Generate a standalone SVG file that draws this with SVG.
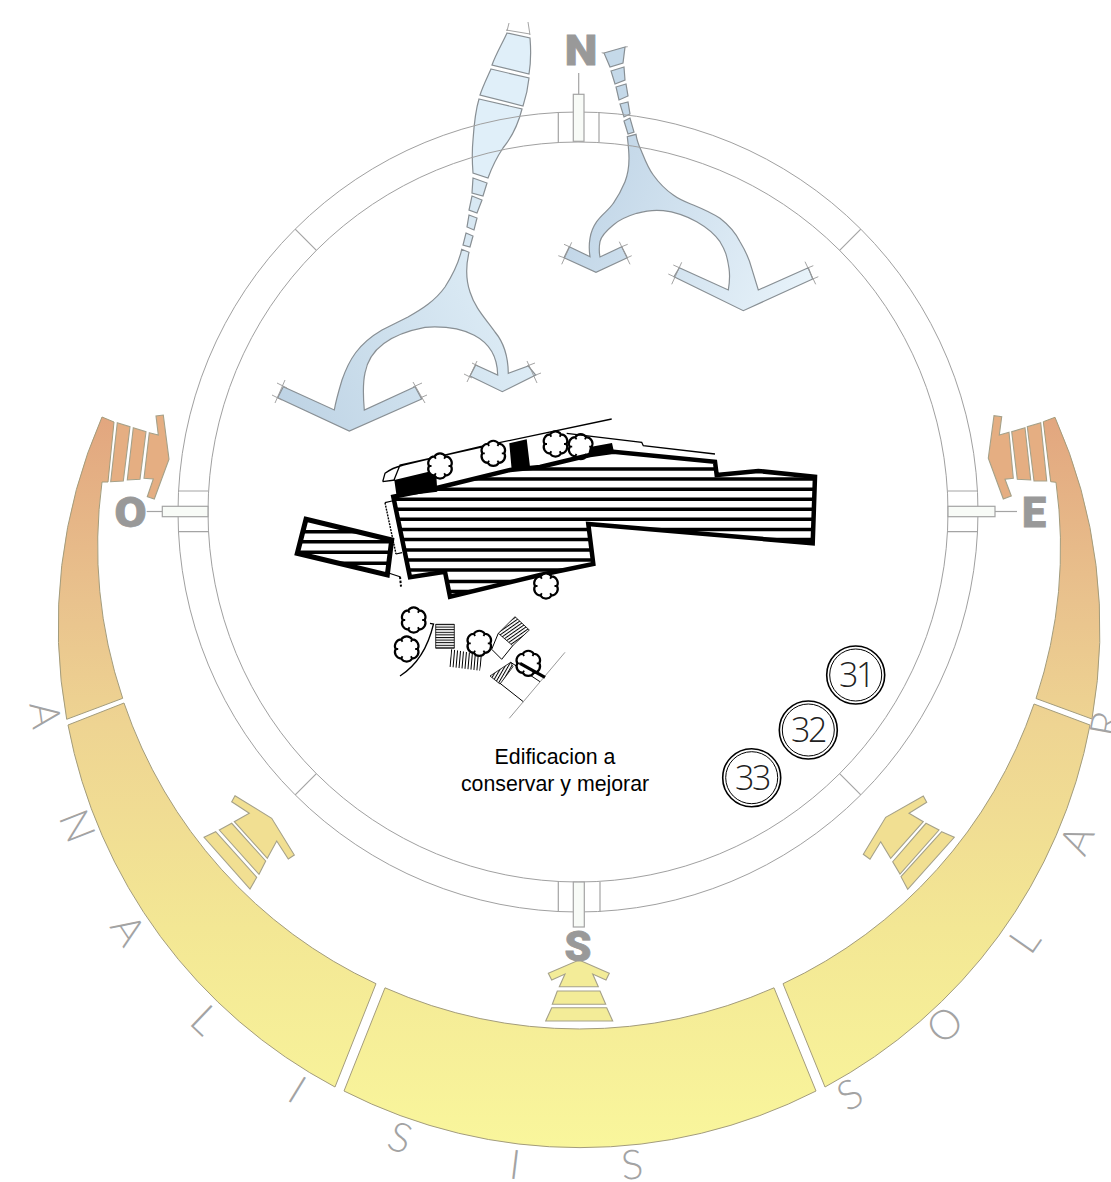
<svg xmlns="http://www.w3.org/2000/svg" width="1111" height="1182" viewBox="0 0 1111 1182">
<style>
.ring{fill:none;stroke:#a0a0a0;stroke-width:1}
.tick{stroke:#a4a4a4;stroke-width:1.2;fill:none}
.post{fill:#f8fbf7;stroke:#a4a4a4;stroke-width:1.2}
.dir{font-family:Roboto,"Liberation Sans",Arial,sans-serif;font-weight:900;font-size:43px;fill:#999;stroke:#999;stroke-width:.8;text-anchor:middle}
.lt{font-family:Lato,"Noto Sans",sans-serif;font-weight:300;font-size:41px;fill:#a3a3a3;text-anchor:middle}
.band{fill:url(#bandG);stroke:#a39c7c;stroke-width:1}
.hand{stroke:#a5a189;stroke-width:1.1}
.arr{stroke:#888f94;stroke-width:1.2}
.mk{fill:none;stroke:#999;stroke-width:.9}
.num{font-family:"Open Sans","Noto Sans",sans-serif;font-weight:300;font-size:34px;letter-spacing:-2.500px;fill:#222;text-anchor:middle}
.lab{font-family:"Liberation Sans",Arial,sans-serif;font-size:21.300px;fill:#000;text-anchor:middle}
.wall{fill:none;stroke:#000;stroke-linejoin:miter}
.tr{stroke:#000;stroke-width:2.200}
</style>
<defs>
<linearGradient id="bandG" gradientUnits="userSpaceOnUse" x1="0" y1="417" x2="0" y2="1148">
<stop offset="0" stop-color="#e2a67f"/><stop offset=".25" stop-color="#e9c28d"/><stop offset=".42" stop-color="#eed492"/><stop offset=".7" stop-color="#f3e794"/><stop offset="1" stop-color="#f9f69c"/>
</linearGradient>
<linearGradient id="yL" gradientUnits="userSpaceOnUse" x1="285" y1="400" x2="500" y2="300"><stop offset="0" stop-color="#bfd4e5"/><stop offset="1" stop-color="#dcebf5"/></linearGradient>
<linearGradient id="yR" gradientUnits="userSpaceOnUse" x1="590" y1="200" x2="810" y2="290"><stop offset="0" stop-color="#c3d7e8"/><stop offset="1" stop-color="#e8f3fa"/></linearGradient>
<pattern id="hA" width="2.600" height="2.600" patternUnits="userSpaceOnUse"><rect width="2.600" height="1" fill="#000"/></pattern>
<pattern id="hB" width="3" height="3" patternUnits="userSpaceOnUse" patternTransform="rotate(95)"><rect width="3" height="1" fill="#000"/></pattern>
<pattern id="hC" width="2.800" height="2.800" patternUnits="userSpaceOnUse" patternTransform="rotate(-35)"><rect width="2.800" height="1" fill="#000"/></pattern>
<pattern id="hD" width="2.800" height="2.800" patternUnits="userSpaceOnUse" patternTransform="rotate(-60)"><rect width="2.800" height="1" fill="#000"/></pattern>
<clipPath id="cMain"><path d="M393.300,496.700L436.700,488L510,470L540,467L590,455L613.300,451.700L715,461.700L716.700,475L758.300,471L815,476.700L812.700,543.300L588.300,524L593.300,564L540,575L450,596.700L445,571.700L410,577.300Z"/></clipPath>
<clipPath id="cSmall"><path d="M306,519.300L391.700,540L387.300,575L297.300,553.300Z"/></clipPath>
<g id="tree"><path class="tr" d="M11,0A6.500 6.500 0 0 1 5.500,9.530A6.500 6.500 0 0 1 -5.500,9.530A6.500 6.500 0 0 1 -11,0A6.500 6.500 0 0 1 -5.500,-9.530A6.500 6.500 0 0 1 5.500,-9.530A6.500 6.500 0 0 1 11,0Z"/><path fill="none" stroke="#000" stroke-width="1.800" d="M11,0L8.500,0M5.500,9.530L4.200,7.300M-5.500,9.530L-4.200,7.300M-11,0L-8.500,0M-5.500,-9.530L-4.200,-7.300M5.500,-9.530L4.200,-7.300"/></g>
</defs>
<rect width="1111" height="1182" fill="#fff"/>

<g id="band">
<path class="band" d="M102,417L114,422L108,482L102,482A480 480 0 0 0 122.700,698.300L66.700,719.300A520 520 0 0 1 102,417Z"/>
<path class="band" d="M124,703A480 480 0 0 0 376,983.700L335,1087A520 520 0 0 1 68,725Z"/>
<path class="band" d="M385,987.800A480 480 0 0 0 774,987.800L816,1091A520 520 0 0 1 344,1091Z"/>
<path class="band" d="M783,983.700A480 480 0 0 0 1034,704L1090,725A520 520 0 0 1 825,1087Z"/>
<path class="band" d="M1036,698.500A480 480 0 0 0 1056,482.300L1050.700,481.700L1043.300,421.700L1055,417.300A520 520 0 0 1 1092,719Z"/>
</g>

<g id="hand-o" class="hand" fill="#e5ae82">
<path d="M117.300,422.700L130,426.700L123.300,481L110.700,481.700Z"/>
<path d="M133.300,427.700L146,431.700L140,479.300L127.300,480Z"/>
<path d="M149.300,432.700L158.300,435L156,416L163.300,415L169,459.300L154.300,499L147.300,496.700L153.300,479L144,478.300Z"/>
</g>
<g id="hand-e" class="hand" fill="#e5ae82">
<path d="M1040.700,422.700L1027.300,426.700L1034,481L1046.700,481Z"/>
<path d="M1025,427.700L1011.700,431.700L1017.300,479.300L1030.700,480Z"/>
<path d="M1009,432.300L999.300,435L1001.700,416.700L994,415.700L988.300,458.300L1003.300,499L1011.300,496L1005,479.300L1013.300,478.300Z"/>
</g>
<g id="hand-s" class="hand" fill="#f3ec98">
<path d="M579,960L609.300,973.300L606,980L592.700,974L598.300,986.700L559.300,986.700L565,974L551.700,980L548.300,973.300Z"/>
<path d="M557.300,991L600,991L605.700,1004.300L552.300,1004.300Z"/>
<path d="M551.700,1007.700L606.700,1007.700L612.700,1021L545.700,1021Z"/>
</g>
<g id="hand-so" class="hand" fill="#f1df92">
<path d="M235,795.700L271.700,818.300L294.300,855L288.300,859L276.700,841L267.300,858.300L234.300,821.700L249.300,813.300L231.700,801.700Z"/>
<path d="M219.300,830L231.700,823.300L265.700,861L259,874.300Z"/>
<path d="M204,837.300L215.700,831.700L256.700,877.300L250,889Z"/>
</g>
<g id="hand-se" class="hand" fill="#f1df92">
<path d="M923.300,796L926.700,802.300L909,813.300L923.300,821.700L890.700,858.300L880.700,841.700L870,859.300L863.300,854.300L885.700,817.300Z"/>
<path d="M926,823.300L939,830L900,874L892.700,861.700Z"/>
<path d="M941.700,831.700L954.300,837.300L907.700,889.300L901,876.700Z"/>
</g>

<g id="arrow-left" class="arr">
<g fill="#e0eff9">
<path d="M507,33L530,38C531,50 531,62 529,74L492,65C496,54 502,44 507,33Z"/>
<path d="M491,69L529,78C528,88 526,97 523,106L480,95C483,86 487,78 491,69Z"/>
<path d="M479,99L522,109C518,125 512,137 503,148C497,157 492,167 488,178L473,173C472,160 472,150 473,140C474,125 475,112 479,99Z"/>
</g>
<g fill="#d8e8f3">
<path d="M473,178L487,183L483,196L472,193Z"/>
<path d="M472,196L482,200L477,213L469,210Z"/>
<path d="M469,215L477,218L474,230L467,227Z"/>
<path d="M466,233L473,236L470,247L463,245Z"/>
</g>
<path fill="url(#yL)" d="M461.700,249.300C459,262 452,276 445,287C435,301 422,309 408,317C398,322 390,326 382,330C358,344 349,360 342,380C339,390 336,400 334.300,410L283.300,386.700L277.700,397.700L349.300,431L421.700,399L415,386.700L364.300,410C363,395 363,382 365,373C370,345 395,333 425,327.300C460,325 497,335 497.700,375L475.700,365L470,376L502.300,391.700L535.700,375L528.300,366L508.300,373.300C508,350 500,338 495,332C485,318 475,308 470,292C466,280 466,265 469,252.300Z"/>
<path class="mk" d="M506,30L530,34M509,23L507,31M528,22L530,35M285,380L275,403M277,383L287,388M272,395L282,400M413,382L425,403M413,387L422,383M420,398L427,395M477,361L467,382M464,374L472,378M472,363L478,366M527,361L537,383M527,366L535,363M535.700,375L541,373"/>
</g>
<g id="arrow-right" class="arr">
<g fill="#c5d9e9">
<path d="M604,53L625,47L623,63L610,67Z"/>
<path d="M611,71L624,67L625,80L615,84Z"/>
<path d="M616,87L626,84L628,96L619,100Z"/>
<path d="M620,104L628,102L630,114L624,117Z"/>
<path d="M624,121L630,118L634,132L628,134Z"/>
</g>
<path fill="url(#yR)" d="M627.300,136.700L636,134.300C637,142 640,148 641.700,151.700C645,160 648,168 653.300,175C659,183 666,190 673.300,195C680,200 686,202 693.300,205C703,209 712,213 720,218.300C730,226 735,232 740,241.700C745,250 749,258 751.700,268.300L758.300,290L808.300,267.700L812.700,279L743.300,310.700L674,276.700L679.300,267.700L728.300,290C730,280 730,275 729,268.300C727,255 725,250 720,241.700C714,233 706,227 696.700,221.700C686,216 675,212 663.300,210.700C654,209.500 645,211 636.700,213.300C628,216 620,219 613.300,225C606,231 601,236 600,241.700C599,247 599,252 600,257L621.700,246.700L627.300,257.700L596,272.300L564,257.700L569.300,246.700L590,256.700C589,250 589,244 590,238.300C591,232 593,227 596.700,221.700C602,214 609,210 613.300,203.300C619,195 622,189 625,181.700C628,174 629,166 629,158.300C629,150 628,143 627.300,136.700Z"/>
<path class="mk" d="M601.700,52.700L605,53.500M625,47L627.700,46.700M571.700,242.300L561.700,264.300M564,244.300L569.300,246.700M558.300,255.700L564,257.700M619.300,241.700L630,264.300M621.700,246.700L627.700,244.300M627.300,257.700L631.700,255.700M681.700,262.300L671.700,284.300M673.300,265L679.300,267.700M668.300,274L674,276.700M805,261.700L815.700,284.300M808.300,267.700L813.300,265.700M812.700,279L818.300,276.700"/>
</g>

<g id="rings">
<circle class="ring" cx="578" cy="512" r="400"/>
<circle class="ring" cx="578" cy="512" r="370"/>
<path class="tick" d="M558.300,112V142M599,112V142M558.300,882V912M600,882V912M178,491H208M178,531.700H208M948,491H978M948,531.700H978M316.400,250.400L295.200,229.200M839.600,250.400L860.800,229.200M316.400,773.600L295.200,794.800M839.600,773.600L860.800,794.800"/>
</g>

<g id="n"><line class="tick" x1="578.700" y1="73" x2="578.700" y2="94.300"/><rect class="post" x="573.300" y="94.300" width="10.700" height="47"/><text class="dir" transform="translate(581,65) scale(1.080,1)">N</text></g>
<g id="s"><rect class="post" x="573.300" y="882" width="11" height="45"/><text class="dir" x="578" y="961">S</text></g>
<g id="o"><line class="tick" x1="146.700" y1="511.500" x2="162.300" y2="511.500"/><rect class="post" x="162.300" y="506.300" width="45.700" height="10.400"/><text class="dir" transform="translate(130.500,527) scale(1.080,1)">O</text></g>
<g id="e"><line class="tick" x1="995" y1="511.500" x2="1017" y2="511.500"/><rect class="post" x="948" y="506.300" width="47" height="10.400"/><text class="dir" x="1034" y="527">E</text></g>

<g id="building">
<path fill="#fff" d="M393.300,496.700L436.700,488L510,470L540,467L590,455L613.300,451.700L715,461.700L716.700,475L758.300,471L815,476.700L812.700,543.300L588.300,524L593.300,564L540,575L450,596.700L445,571.700L410,577.300Z"/>
<g clip-path="url(#cMain)"><path fill="none" stroke="#000" stroke-width="3.500" d="M380,469H820M380,479H820M380,489.300H820M380,499.300H820M380,509.300H820M380,519.300H820M380,529.500H820M380,539.500H820M380,550H820M380,560H820M380,570H820M380,581.500H820M380,591.500H820"/></g>
<path class="wall" stroke-width="4.500" d="M393.300,496.700L436.700,488L510,470L540,467L590,455L613.300,451.700L715,461.700L716.700,475L758.300,471L815,476.700L812.700,543.300L588.300,524L593.300,564L540,575L450,596.700L445,571.700L410,577.300Z"/>
<g clip-path="url(#cSmall)"><path fill="none" stroke="#000" stroke-width="3.500" d="M290,531.700H400M290,541.700H400M290,552.300H400M290,563.300H400"/></g>
<path class="wall" stroke-width="5" d="M306,519.300L391.700,540L387.300,575L297.300,553.300Z"/>
<path d="M394.300,480L436,470L437.300,491.700L396.700,496.700Z M509.300,443.300L526.700,439.300L530,466.700L511.700,470Z M590,447L612,443L614,452L588,455Z"/>
<path fill="none" stroke="#000" stroke-width="1.300" d="M382.700,481.700L385,473.300Q392,468 403.300,465L480,446.700L611.700,419M394,480L400,465L486,446M382.700,481.700L395,480M566.700,433.300L641.700,442.300L643.300,445.700L715,454"/>
<path fill="none" stroke="#000" stroke-width="1.400" stroke-dasharray="2 1" d="M385,502.700L396,554"/>
<path fill="none" stroke="#000" stroke-width="1.200" d="M385,502.700L392,501M396,554L402,552.700M389.300,573.300L400,576.700"/>
<path fill="none" stroke="#000" stroke-width="2" stroke-dasharray="2.500 1.500" d="M400,576.700L401,586.700"/>
</g>

<g id="stairs">
<path fill="none" stroke="#000" stroke-width="1.300" d="M400,676Q425,660 433.500,624L430,623.300"/>
<path fill="url(#hA)" stroke="#000" stroke-width=".8" d="M435.700,624.300H454.300V648.300H435.700Z"/>
<path fill="url(#hB)" d="M451,649.300L483.300,655L480,670.700L449,666.700Z"/>
<path fill="url(#hC)" stroke="#000" stroke-width=".8" d="M515,616.700L529.300,630L512.700,645.700L498.300,633.300Z"/>
<path fill="none" stroke="#000" stroke-width="1" d="M498.300,633.300L491.700,649.300L501.700,659.300L512.700,645.700"/>
<path fill="url(#hD)" stroke="#000" stroke-width=".8" d="M510.700,662.300L490,676L500,684L513,666.700Z"/>
<path fill="none" stroke="#000" stroke-width="1" d="M500,683.300L523.300,701.700M510.700,662.300L540,681.700"/>
<line x1="565" y1="652.300" x2="509.300" y2="718.300" stroke="#999" stroke-width="1"/>
</g>

<g id="trees">
<use href="#tree" fill="#fff" x="440" y="466"/>
<use href="#tree" fill="#fff" x="493.300" y="453.300"/>
<use href="#tree" fill="#fff" x="555.500" y="444"/>
<use href="#tree" fill="none" x="580.700" y="446.700"/>
<use href="#tree" fill="#fff" x="546" y="586"/>
<use href="#tree" fill="#fff" x="413.700" y="620"/>
<use href="#tree" fill="#fff" x="406.700" y="649"/>
<use href="#tree" fill="#fff" x="479.300" y="643.300"/>
<use href="#tree" fill="#fff" x="528.300" y="663.300"/>
</g>
<line x1="520" y1="663.300" x2="545" y2="677.300" stroke="#000" stroke-width="3.200"/>

<g id="n31"><circle cx="855.700" cy="675" r="29" fill="#fff" stroke="#000" stroke-width="1.600"/><circle cx="855.700" cy="675" r="26" fill="none" stroke="#000" stroke-width="1"/><text class="num" x="856" y="686.500">31</text></g>
<g id="n32"><circle cx="808.300" cy="730" r="29" fill="#fff" stroke="#000" stroke-width="1.600"/><circle cx="808.300" cy="730" r="26" fill="none" stroke="#000" stroke-width="1"/><text class="num" x="808" y="741.500">32</text></g>
<g id="n33"><circle cx="751.700" cy="777.700" r="29" fill="#fff" stroke="#000" stroke-width="1.600"/><circle cx="751.700" cy="777.700" r="26" fill="none" stroke="#000" stroke-width="1"/><text class="num" x="752" y="790">33</text></g>

<g id="caption"><text class="lab" x="555" y="764">Edificacion a</text><text class="lab" x="555" y="791">conservar y mejorar</text></g>

<g id="letters">
<text class="lt" transform="translate(45,715) rotate(82)" y="14">A</text>
<text class="lt" transform="translate(77,826) rotate(68.600)" y="14">N</text>
<text class="lt" transform="translate(128,930) rotate(56.400)" y="14">A</text>
<text class="lt" transform="translate(205,1020) rotate(43.700)" y="14">L</text>
<text class="lt" transform="translate(297,1090) rotate(31.500)" y="14">I</text>
<text class="lt" transform="translate(400,1138) rotate(19.400)" y="14">S</text>
<text class="lt" transform="translate(515,1165) rotate(6.900)" y="14">I</text>
<text class="lt" transform="translate(632,1165) rotate(-5.500)" y="14">S</text>
<text class="lt" transform="translate(850,1095) rotate(-30)" y="14">S</text>
<text class="lt" transform="translate(945,1025) rotate(-42.600)" y="14">O</text>
<text class="lt" transform="translate(1025,940) rotate(-55)" y="14">L</text>
<text class="lt" transform="translate(1077,840) rotate(-67)" y="14">A</text>
<text class="lt" transform="translate(1106,724) rotate(-79.500)" y="14">R</text>
</g>
</svg>
